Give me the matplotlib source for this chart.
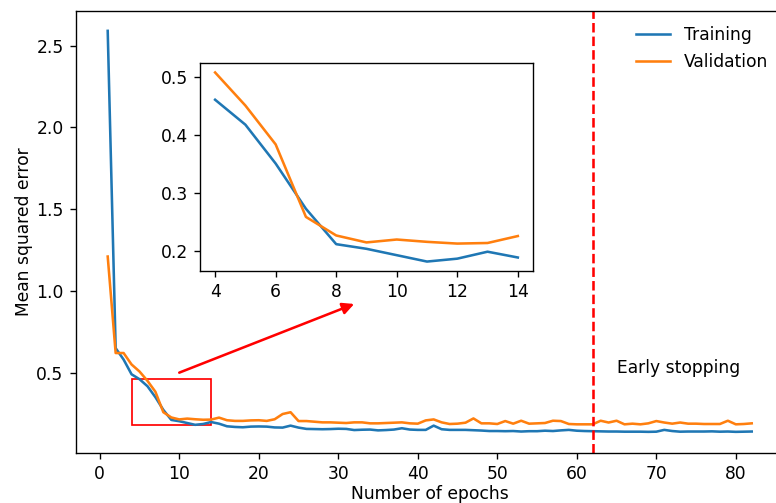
import matplotlib
matplotlib.use("Agg")
import matplotlib.pyplot as plt
from matplotlib.patches import Rectangle

# Loss per epoch (epochs 1..82)
epochs = list(range(1, 83))
train_mse = [
    2.59, 0.65, 0.58, 0.49, 0.460, 0.417, 0.350, 0.272, 0.211, 0.203,
    0.192, 0.181, 0.186, 0.198, 0.188, 0.172, 0.168, 0.166, 0.170, 0.171,
    0.170, 0.165, 0.164, 0.176, 0.164, 0.156, 0.155, 0.154, 0.155, 0.157,
    0.156, 0.149, 0.151, 0.152, 0.147, 0.149, 0.152, 0.160, 0.152, 0.150,
    0.150, 0.176, 0.154, 0.150, 0.150, 0.150, 0.148, 0.146, 0.143, 0.143,
    0.142, 0.143, 0.140, 0.142, 0.142, 0.145, 0.143, 0.147, 0.150, 0.145,
    0.143, 0.142, 0.141, 0.140, 0.140, 0.139, 0.139, 0.139, 0.138, 0.139,
    0.150, 0.143, 0.139, 0.140, 0.140, 0.140, 0.141, 0.139, 0.140, 0.138,
    0.139, 0.140,
]
val_mse = [
    1.21, 0.62, 0.62, 0.55, 0.507, 0.450, 0.383, 0.258, 0.226, 0.214,
    0.219, 0.215, 0.212, 0.213, 0.225, 0.209, 0.205, 0.205, 0.208, 0.209,
    0.205, 0.215, 0.247, 0.258, 0.204, 0.204, 0.200, 0.196, 0.196, 0.194,
    0.192, 0.196, 0.196, 0.190, 0.190, 0.192, 0.194, 0.196, 0.190, 0.188,
    0.208, 0.214, 0.196, 0.186, 0.188, 0.194, 0.220, 0.190, 0.190, 0.186,
    0.204, 0.188, 0.206, 0.188, 0.190, 0.192, 0.206, 0.204, 0.186, 0.184,
    0.184, 0.184, 0.206, 0.195, 0.206, 0.184, 0.188, 0.184, 0.190, 0.204,
    0.195, 0.188, 0.195, 0.188, 0.188, 0.186, 0.186, 0.186, 0.206, 0.184,
    0.186, 0.190,
]
stop_epoch = 62

# zoomed window
zoom_x = list(range(4, 15))
zoom_train = train_mse[4:15]
zoom_val = val_mse[4:15]

DPI = 123
fig = plt.figure(figsize=(776 / DPI, 503 / DPI), dpi=DPI)
ax = fig.add_axes([0.0973, 0.100, 0.9129, 0.878])

ax.plot(epochs, train_mse, label="Training")
ax.plot(epochs, val_mse, label="Validation")
ax.axvline(stop_epoch, color="red", linestyle="--")
ax.text(65, 0.53, "Early stopping", va="center", ha="left")
ax.add_patch(Rectangle((4, 0.18), 10, 0.28, fill=False, edgecolor="red", lw=1))
ax.annotate("", xy=(32, 0.92), xytext=(10, 0.5),
            arrowprops=dict(arrowstyle="-|>", color="red", lw=1.5,
                            mutation_scale=14, shrinkA=0, shrinkB=0))
ax.set_xlim(-3.05, 86.05)
ax.set_ylim(0.0105, 2.711)
ax.set_xlabel("Number of epochs", labelpad=1.5)
ax.set_ylabel("Mean squared error", labelpad=2)
ax.legend(loc="upper right", frameon=False)

ins = fig.add_axes([0.2577, 0.4612, 0.4291, 0.4135])
ins.plot(zoom_x, zoom_train)
ins.plot(zoom_x, zoom_val)

fig.savefig("out.png", dpi=DPI)
